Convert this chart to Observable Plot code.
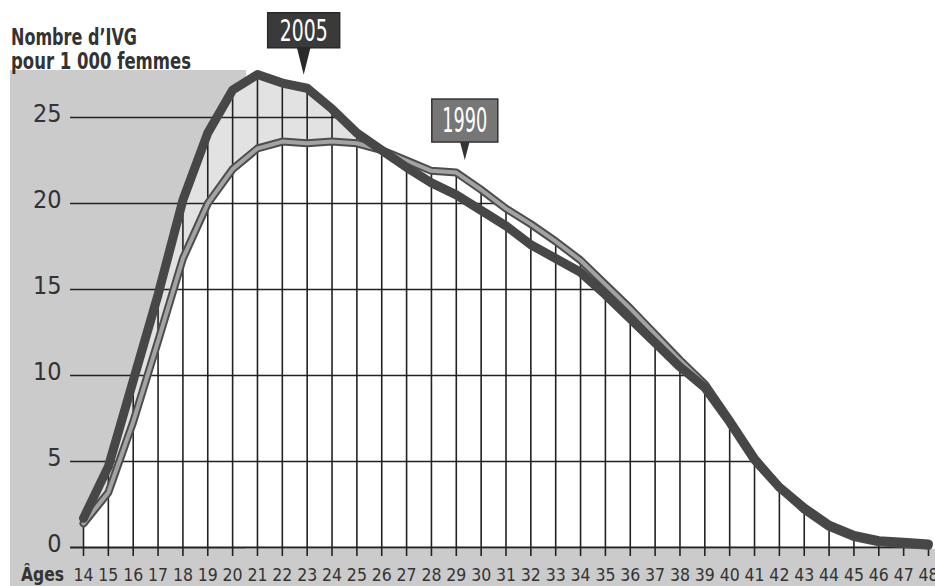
<!DOCTYPE html>
<html>
<head>
<meta charset="utf-8">
<script src="https://cdn.jsdelivr.net/npm/d3@7"></script>
<script src="https://cdn.jsdelivr.net/npm/@observablehq/plot@0.6"></script>
<style>
  html, body { margin: 0; padding: 0; background: #fff; }
  #wrap { position: relative; width: 935px; height: 586px; overflow: hidden; }
  .bg { position: absolute; background: #cbcbcb; }
  #chart, #overlay { position: absolute; left: 0; top: 0; }
  #overlay { pointer-events: none; }
</style>
</head>
<body>
<div id="wrap">
  <div class="bg" style="left:10px;top:70px;width:236px;height:516px"></div>
  <div class="bg" style="left:10px;top:549px;width:925px;height:37px"></div>
  <div id="chart"></div>
  <svg id="overlay" width="935" height="586"></svg>
</div>
<script>
const ages = [14,15,16,17,18,19,20,21,22,23,24,25,26,27,28,29,30,31,32,33,34,35,36,37,38,39,40,41,42,43,44,45,46,47,48];
const v2005 = [1.7,4.7,9.7,14.7,20.2,24.1,26.6,27.5,27.0,26.7,25.5,24.1,23.1,22.1,21.2,20.5,19.6,18.7,17.6,16.8,16.0,14.7,13.3,11.9,10.5,9.3,7.3,5.1,3.5,2.3,1.3,0.7,0.4,0.3,0.2];
const v1990 = [1.4,3.2,7.3,12.0,16.8,20.0,22.0,23.2,23.6,23.5,23.6,23.5,23.1,22.5,21.9,21.8,20.8,19.7,18.8,17.8,16.7,15.3,13.9,12.4,10.9,9.5,7.4,5.2,3.5,2.2,1.2,0.6,0.3,0.2,0.1];
const yTicks = [0,5,10,15,20,25];
const gridLevels = [5,10,15,20,25];
const titleLines = ["Nombre d’IVG", "pour 1 000 femmes"];
const xLabel = "Âges";
const callouts = [
  {year: "2005", age: 23, series: "v2005"},
  {year: "1990", age: 29, series: "v1990"}
];

const data = ages.map((a, i) => ({age: a, v2005: v2005[i], v1990: v1990[i], top: Math.max(v2005[i], v1990[i])}));

// right-side crossing of each grid level with the upper curve
function crossing(level) {
  for (let i = data.length - 1; i > 0; i--) {
    if (data[i - 1].top >= level && data[i].top < level) {
      const a = data[i - 1], b = data[i];
      return a.age + (a.top - level) / (a.top - b.top) * (b.age - a.age);
    }
  }
  return ages[ages.length - 1];
}

const FONT = "'Liberation Sans Narrow', 'DejaVu Sans Condensed', 'Roboto Condensed', sans-serif";
const INK = "#222";

const plot = Plot.plot({
  width: 935,
  height: 586,
  marginLeft: 83,
  marginRight: 7,
  marginTop: 31,
  marginBottom: 39,
  style: {background: "none", fontFamily: FONT, overflow: "visible"},
  x: {domain: [14, 48], axis: null},
  y: {domain: [0, 30], axis: null},
  marks: [
    Plot.areaY(data, {x: "age", y1: 0, y2: "top", fill: "#fff"}),
    Plot.areaY(data, {x: "age", y1: "v1990", y2: "top", fill: "#e2e2e2"}),
    Plot.ruleX(data, {x: "age", y1: 0, y2: "top", stroke: INK, strokeWidth: 1.6}),
    Plot.ruleY(gridLevels, {y: d => d, x1: 13.48, x2: d => crossing(d), stroke: INK, strokeWidth: 1.6}),
    Plot.ruleY([0], {x1: 13.48, x2: 48.1, stroke: INK, strokeWidth: 2}),
    Plot.axisX({ticks: ages, tickFormat: d => String(d), tickSize: 9, tickPadding: 12, fontSize: 17.5, stroke: INK, strokeWidth: 1.6, color: "#333", label: null}),
    Plot.axisY({ticks: yTicks, tickFormat: d => String(d), tickSize: 0, tickPadding: 22, fontSize: 25, dy: -4, color: "#333", label: null}),
    Plot.line(data, {x: "age", y: "v1990", stroke: "#4d4d4d", strokeWidth: 8, strokeLinejoin: "round", strokeLinecap: "round"}),
    Plot.line(data, {x: "age", y: "v1990", stroke: "#a3a3a3", strokeWidth: 4, strokeLinejoin: "round", strokeLinecap: "round"}),
    Plot.line(data, {x: "age", y: "v2005", stroke: "#474747", strokeWidth: 9, strokeLinejoin: "round", strokeLinecap: "round"})
  ]
});
document.getElementById("chart").appendChild(plot);

const xs = plot.scale("x"), ys = plot.scale("y");
const ov = d3.select("#overlay");

// title
ov.append("text").attr("x", 11).attr("y", 45).attr("font-family", FONT).attr("font-weight", "bold")
  .attr("font-size", 23).attr("fill", "#333").attr("textLength", 126).attr("lengthAdjust", "spacingAndGlyphs").text(titleLines[0]);
ov.append("text").attr("x", 11).attr("y", 69).attr("font-family", FONT).attr("font-weight", "bold")
  .attr("font-size", 23).attr("fill", "#333").attr("textLength", 180).attr("lengthAdjust", "spacingAndGlyphs").text(titleLines[1]);
// x label
ov.append("text").attr("x", 21).attr("y", 581).attr("font-family", FONT).attr("font-weight", "bold")
  .attr("font-size", 20).attr("fill", "#333").attr("textLength", 43).attr("lengthAdjust", "spacingAndGlyphs").text(xLabel);

// callouts
const styles = {
  "2005": {fill: "#3a3a3a", stroke: "#2a2a2a", w: 72, h: 35, gap: 13, ptr: 27, pw: 14, dx: -3, fs: 30, tl: 48},
  "1990": {fill: "#767676", stroke: "#333", w: 66, h: 43, gap: 12, ptr: 18, pw: 10, dx: 9, fs: 33, tl: 45}
};
for (const c of callouts) {
  const s = styles[c.year];
  const d = data.find(r => r.age === c.age);
  const px = xs.apply(c.age) + s.dx;
  const tipY = ys.apply(d[c.series]) - s.gap;
  const bottom = tipY - s.ptr;
  const top = bottom - s.h;
  const g = ov.append("g");
  g.append("path").attr("d", `M${px - s.pw / 2},${bottom - 1}L${px + s.pw / 2},${bottom - 1}L${px},${tipY}Z`).attr("fill", s.stroke);
  g.append("rect").attr("x", px - s.w / 2).attr("y", top).attr("width", s.w).attr("height", s.h)
    .attr("fill", s.fill).attr("stroke", s.stroke).attr("stroke-width", 1.5);
  g.append("text").attr("x", px).attr("y", top + s.h / 2 + s.fs * 0.36).attr("text-anchor", "middle")
    .attr("font-family", FONT).attr("font-size", s.fs).attr("fill", "#fff")
    .attr("textLength", s.tl).attr("lengthAdjust", "spacingAndGlyphs").text(c.year);
}
</script>
</body>
</html>
